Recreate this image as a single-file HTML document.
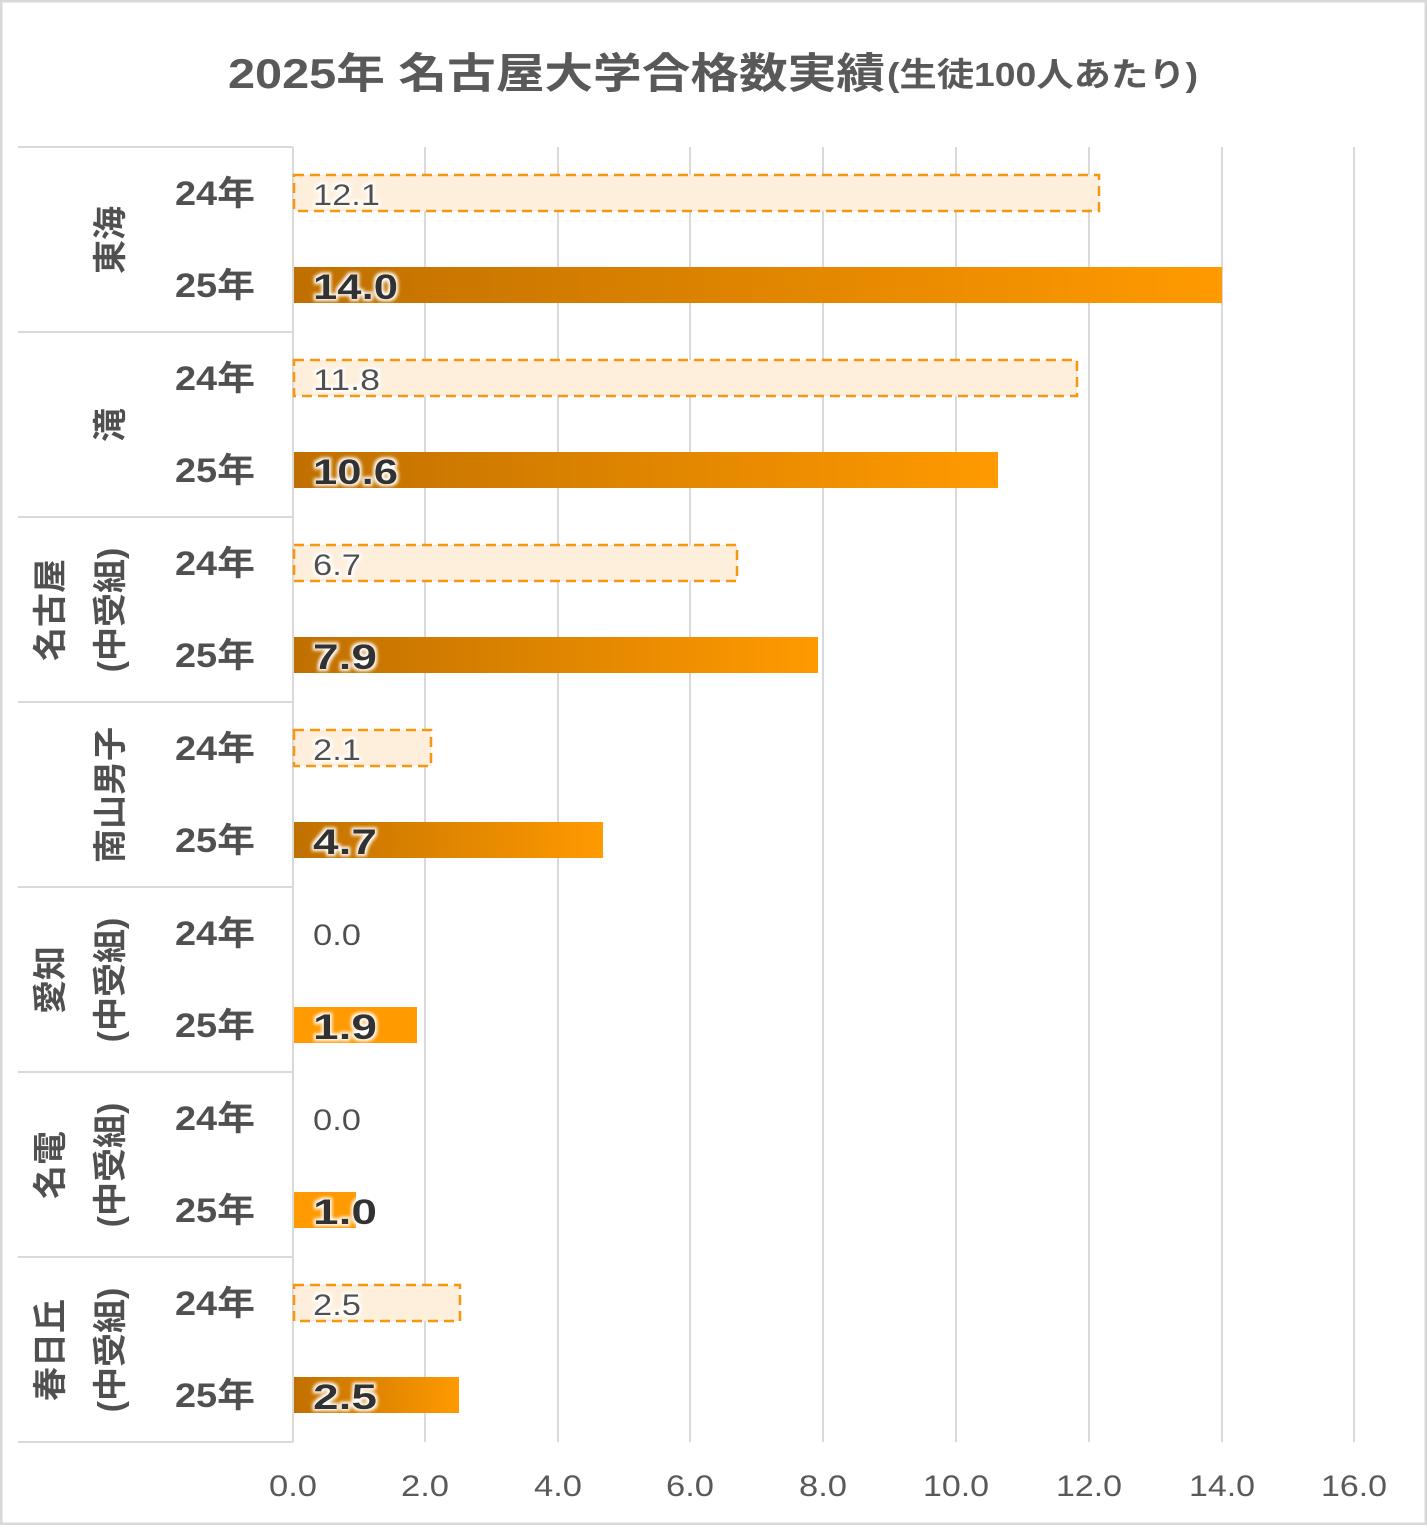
<!DOCTYPE html>
<html><head><meta charset="utf-8"><style>
html,body{margin:0;padding:0;background:#fff}
svg{display:block}
text{font-family:"Liberation Sans","Noto Sans CJK JP",sans-serif}
</style></head><body>
<svg width="1427" height="1525" viewBox="0 0 1427 1525" xmlns="http://www.w3.org/2000/svg">
<defs>
<linearGradient id="g" x1="0" x2="1" y1="0" y2="0">
<stop offset="0" stop-color="#C07000"/><stop offset="1" stop-color="#FF9A00"/>
</linearGradient>
<filter id="glow" x="-20%" y="-30%" width="140%" height="160%">
<feMorphology in="SourceAlpha" operator="dilate" radius="2" result="d"/>
<feGaussianBlur in="d" stdDeviation="1.5" result="b"/>
<feFlood flood-color="#fff"/><feComposite in2="b" operator="in" result="w"/>
<feMerge><feMergeNode in="w"/><feMergeNode in="SourceGraphic"/></feMerge>
</filter>
</defs>
<rect x="1" y="1" width="1425" height="1523" fill="#fff" stroke="#d9d9d9" stroke-width="3"/>
<text x="228" y="88" font-size="42" font-weight="bold" fill="#595959" textLength="657" lengthAdjust="spacingAndGlyphs">2025年 名古屋大学合格数実績</text>
<text x="887" y="86" font-size="33" font-weight="bold" fill="#595959" textLength="311" lengthAdjust="spacingAndGlyphs">(生徒100人あたり)</text>
<g stroke="#d9d9d9" stroke-width="2">
<line x1="425" y1="147" x2="425" y2="1442"/><line x1="558" y1="147" x2="558" y2="1442"/>
<line x1="690" y1="147" x2="690" y2="1442"/><line x1="823" y1="147" x2="823" y2="1442"/>
<line x1="956" y1="147" x2="956" y2="1442"/><line x1="1089" y1="147" x2="1089" y2="1442"/>
<line x1="1222" y1="147" x2="1222" y2="1442"/><line x1="1354" y1="147" x2="1354" y2="1442"/>
<line x1="293" y1="147" x2="293" y2="1442"/>
<line x1="18" y1="147" x2="293" y2="147"/><line x1="18" y1="332" x2="293" y2="332"/>
<line x1="18" y1="517" x2="293" y2="517"/><line x1="18" y1="702" x2="293" y2="702"/>
<line x1="18" y1="887" x2="293" y2="887"/><line x1="18" y1="1072" x2="293" y2="1072"/>
<line x1="18" y1="1257" x2="293" y2="1257"/><line x1="18" y1="1442" x2="293" y2="1442"/>
</g>
<g font-size="30" fill="#595959" text-anchor="middle">
<text x="293" y="1496" textLength="48" lengthAdjust="spacingAndGlyphs">0.0</text><text x="425" y="1496" textLength="48" lengthAdjust="spacingAndGlyphs">2.0</text><text x="558" y="1496" textLength="48" lengthAdjust="spacingAndGlyphs">4.0</text>
<text x="690" y="1496" textLength="48" lengthAdjust="spacingAndGlyphs">6.0</text><text x="823" y="1496" textLength="48" lengthAdjust="spacingAndGlyphs">8.0</text><text x="956" y="1496" textLength="66" lengthAdjust="spacingAndGlyphs">10.0</text>
<text x="1089" y="1496" textLength="66" lengthAdjust="spacingAndGlyphs">12.0</text><text x="1222" y="1496" textLength="66" lengthAdjust="spacingAndGlyphs">14.0</text><text x="1354" y="1496" textLength="66" lengthAdjust="spacingAndGlyphs">16.0</text>
</g>
<g font-size="34" font-weight="bold" fill="#505050">
<text x="175" y="205" textLength="80" lengthAdjust="spacingAndGlyphs">24年</text><text x="175" y="297" textLength="80" lengthAdjust="spacingAndGlyphs">25年</text>
<text x="175" y="390" textLength="80" lengthAdjust="spacingAndGlyphs">24年</text><text x="175" y="482" textLength="80" lengthAdjust="spacingAndGlyphs">25年</text>
<text x="175" y="575" textLength="80" lengthAdjust="spacingAndGlyphs">24年</text><text x="175" y="667" textLength="80" lengthAdjust="spacingAndGlyphs">25年</text>
<text x="175" y="760" textLength="80" lengthAdjust="spacingAndGlyphs">24年</text><text x="175" y="852" textLength="80" lengthAdjust="spacingAndGlyphs">25年</text>
<text x="175" y="945" textLength="80" lengthAdjust="spacingAndGlyphs">24年</text><text x="175" y="1037" textLength="80" lengthAdjust="spacingAndGlyphs">25年</text>
<text x="175" y="1130" textLength="80" lengthAdjust="spacingAndGlyphs">24年</text><text x="175" y="1222" textLength="80" lengthAdjust="spacingAndGlyphs">25年</text>
<text x="175" y="1315" textLength="80" lengthAdjust="spacingAndGlyphs">24年</text><text x="175" y="1407" textLength="80" lengthAdjust="spacingAndGlyphs">25年</text>
</g>
<g font-size="34" font-weight="bold" fill="#505050" text-anchor="middle">
<text transform="translate(122,240) rotate(-90)">東海</text>
<text transform="translate(122,425) rotate(-90)">滝</text>
<text transform="translate(62,610) rotate(-90)">名古屋</text>
<text transform="translate(122,610) rotate(-90)">(中受組)</text>
<text transform="translate(122,795) rotate(-90)">南山男子</text>
<text transform="translate(62,980) rotate(-90)">愛知</text>
<text transform="translate(122,980) rotate(-90)">(中受組)</text>
<text transform="translate(62,1165) rotate(-90)">名電</text>
<text transform="translate(122,1165) rotate(-90)">(中受組)</text>
<text transform="translate(62,1350) rotate(-90)">春日丘</text>
<text transform="translate(122,1350) rotate(-90)">(中受組)</text>
</g>
<g fill="#FDEFDC" stroke="#F7960F" stroke-width="2.5" stroke-dasharray="10,6">
<rect x="294" y="175" width="805" height="36"/>
<rect x="294" y="360" width="783" height="36"/>
<rect x="294" y="545" width="443" height="36"/>
<rect x="294" y="730" width="137" height="36"/>
<rect x="294" y="1285" width="166" height="36"/>
</g>
<rect x="294" y="267" width="928" height="36" fill="url(#g)"/>
<rect x="294" y="452" width="704" height="36" fill="url(#g)"/>
<rect x="294" y="637" width="524" height="36" fill="url(#g)"/>
<rect x="294" y="822" width="309" height="36" fill="url(#g)"/>
<rect x="294" y="1007" width="123" height="36" fill="#FF9A00"/>
<rect x="294" y="1192" width="62" height="36" fill="#FF9A00"/>
<rect x="294" y="1377" width="165" height="36" fill="url(#g)"/>
<g font-size="30" fill="#505050" filter="url(#glow)">
<text x="313" y="205" textLength="67" lengthAdjust="spacingAndGlyphs">12.1</text><text x="313" y="390" textLength="67" lengthAdjust="spacingAndGlyphs">11.8</text>
<text x="313" y="575" textLength="48" lengthAdjust="spacingAndGlyphs">6.7</text><text x="313" y="760" textLength="48" lengthAdjust="spacingAndGlyphs">2.1</text>
<text x="313" y="945" textLength="48" lengthAdjust="spacingAndGlyphs">0.0</text><text x="313" y="1130" textLength="48" lengthAdjust="spacingAndGlyphs">0.0</text>
<text x="313" y="1315" textLength="48" lengthAdjust="spacingAndGlyphs">2.5</text>
</g>
<g font-size="35" font-weight="bold" fill="#333" filter="url(#glow)">
<text x="313" y="299" textLength="85" lengthAdjust="spacingAndGlyphs">14.0</text><text x="313" y="484" textLength="85" lengthAdjust="spacingAndGlyphs">10.6</text>
<text x="313" y="669" textLength="64" lengthAdjust="spacingAndGlyphs">7.9</text><text x="313" y="854" textLength="64" lengthAdjust="spacingAndGlyphs">4.7</text>
<text x="313" y="1039" textLength="64" lengthAdjust="spacingAndGlyphs">1.9</text><text x="313" y="1224" textLength="64" lengthAdjust="spacingAndGlyphs">1.0</text>
<text x="313" y="1409" textLength="64" lengthAdjust="spacingAndGlyphs">2.5</text>
</g>
</svg>
</body></html>
